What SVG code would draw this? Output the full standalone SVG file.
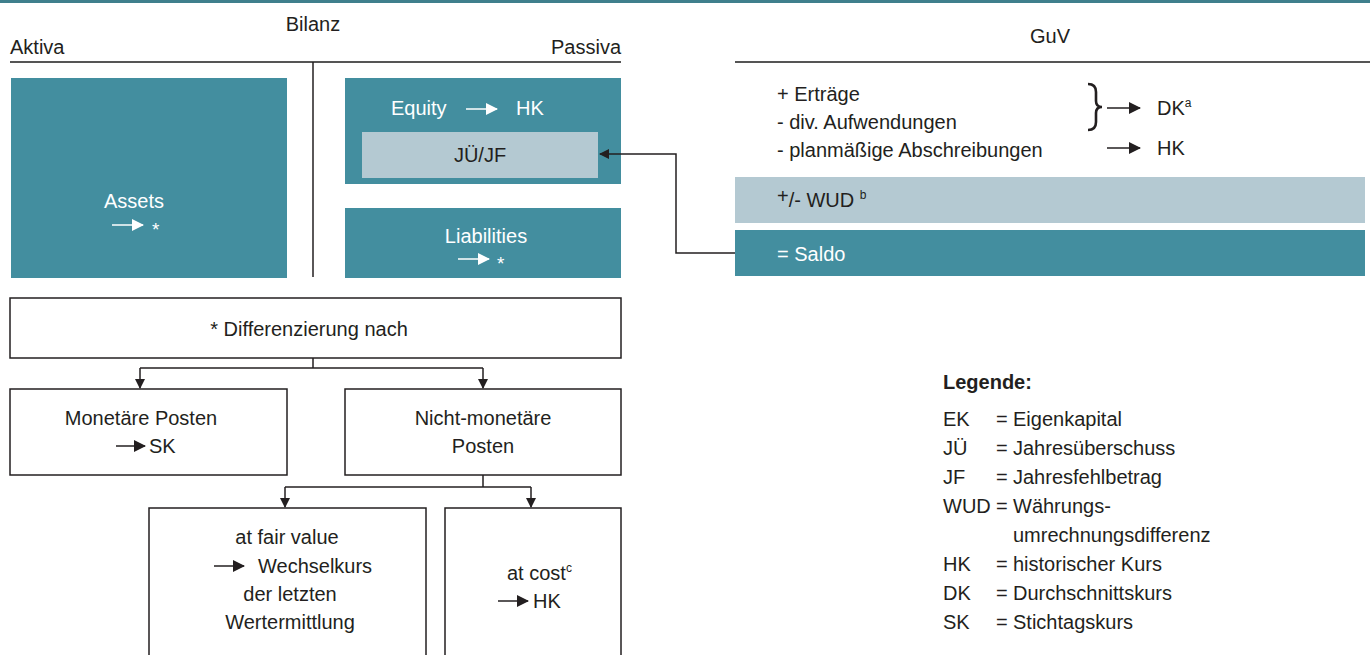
<svg xmlns="http://www.w3.org/2000/svg" width="1370" height="655" viewBox="0 0 1370 655">
<defs>
<style>
text{font-family:"Liberation Sans",Arial,sans-serif;font-size:20px;fill:#231f20}
.w{fill:#ffffff}
.c{text-anchor:middle}
.teal{fill:#438e9f}
.light{fill:#b4c9d2}
.box{fill:#ffffff;stroke:#231f20;stroke-width:1.5}
.conn{fill:none;stroke:#231f20;stroke-width:1.5}
.rule{stroke:#555;stroke-width:2}
.sup{font-size:12px}
.star{font-size:19px}
.b{font-weight:bold}
</style>
<marker id="ah" markerWidth="10" markerHeight="10" refX="9" refY="5" orient="auto" markerUnits="userSpaceOnUse"><path d="M0,0 L10,5 L0,10 Z" fill="#231f20"/></marker>
<marker id="ahw" markerWidth="12" markerHeight="12" refX="11" refY="6" orient="auto" markerUnits="userSpaceOnUse"><path d="M0,0 L12,6 L0,12 Z" fill="#ffffff"/></marker>
<marker id="ahk" markerWidth="12" markerHeight="12" refX="11" refY="6" orient="auto" markerUnits="userSpaceOnUse"><path d="M0,0 L12,6 L0,12 Z" fill="#231f20"/></marker>
</defs>
<rect x="0" y="0" width="1370" height="3" fill="#3f7f8c"/>
<g id="header">
<text class="c" x="313" y="31">Bilanz</text>
<text x="10" y="54">Aktiva</text>
<text x="621" y="54" text-anchor="end">Passiva</text>
<line class="rule" x1="10" y1="62" x2="621" y2="62"/>
<line x1="313" y1="62" x2="313" y2="277" stroke="#231f20" stroke-width="1.5"/>
<text class="c" x="1050" y="43">GuV</text>
<line class="rule" x1="735" y1="62" x2="1370" y2="62"/>
</g>
<g id="assets">
<rect class="teal" x="11" y="78" width="276" height="200"/>
<text class="c w" x="134" y="208">Assets</text>
<line x1="112" y1="225" x2="143" y2="225" stroke="#fff" stroke-width="1.5" marker-end="url(#ahw)"/>
<text class="w star" x="152" y="236">*</text>
</g>
<g id="equity">
<rect class="teal" x="345" y="78" width="276" height="106"/>
<text class="w" x="391" y="115">Equity</text>
<line x1="466" y1="109" x2="497" y2="109" stroke="#fff" stroke-width="1.5" marker-end="url(#ahw)"/>
<text class="w" x="516" y="115">HK</text>
</g>
<g id="juejf">
<rect class="light" x="362" y="132" width="236" height="46"/>
<text class="c" x="480" y="162">JÜ/JF</text>
</g>
<g id="liabilities">
<rect class="teal" x="345" y="208" width="276" height="70"/>
<text class="c w" x="486" y="243">Liabilities</text>
<line x1="458" y1="259" x2="489" y2="259" stroke="#fff" stroke-width="1.5" marker-end="url(#ahw)"/>
<text class="w star" x="497" y="270">*</text>
</g>
<g id="guv">
<text x="777" y="101">+ Erträge</text>
<text x="777" y="129">- div. Aufwendungen</text>
<text x="777" y="157">- planmäßige Abschreibungen</text>
<path d="M1088,84 Q1096,84 1096,92 V101 Q1096,107 1102,107 Q1096,107 1096,113 V122 Q1096,130 1088,130" fill="none" stroke="#231f20" stroke-width="2.6"/>
<line x1="1107" y1="108" x2="1140" y2="108" stroke="#231f20" stroke-width="1.5" marker-end="url(#ahk)"/>
<text x="1157" y="115">DK<tspan class="sup" dy="-8">a</tspan></text>
<line x1="1107" y1="148" x2="1140" y2="148" stroke="#231f20" stroke-width="1.5" marker-end="url(#ahk)"/>
<text x="1157" y="155">HK</text>
</g>
<g id="wud">
<rect class="light" x="735" y="177" width="630" height="46"/>
<text x="777" y="207"><tspan dy="-4">+</tspan><tspan dy="4">/- WUD </tspan><tspan class="sup" dy="-8">b</tspan></text>
</g>
<g id="saldo">
<rect class="teal" x="735" y="230" width="630" height="46"/>
<text class="w" x="777" y="261">= Saldo</text>
</g>
<g id="diff">
<rect class="box" x="10" y="298" width="611" height="60"/>
<text class="c" x="309" y="336">* Differenzierung nach</text>
</g>
<g id="monetaer">
<rect class="box" x="10" y="389" width="277" height="86"/>
<text class="c" x="141" y="425">Monetäre Posten</text>
<line x1="116" y1="446" x2="145" y2="446" stroke="#231f20" stroke-width="1.5" marker-end="url(#ahk)"/>
<text x="149" y="453">SK</text>
</g>
<g id="nichtmonetaer">
<rect class="box" x="345" y="389" width="276" height="86"/>
<text class="c" x="483" y="425">Nicht-monetäre</text>
<text class="c" x="483" y="453">Posten</text>
</g>
<g id="fairvalue">
<rect class="box" x="149" y="508" width="277" height="160"/>
<text class="c" x="287" y="544">at fair value</text>
<line x1="214" y1="566" x2="244" y2="566" stroke="#231f20" stroke-width="1.5" marker-end="url(#ahk)"/>
<text x="258" y="573">Wechselkurs</text>
<text class="c" x="290" y="601">der letzten</text>
<text class="c" x="290" y="629">Wertermittlung</text>
</g>
<g id="atcost">
<rect class="box" x="445" y="508" width="176" height="160"/>
<text x="507" y="580">at cost<tspan class="sup" dy="-8">c</tspan></text>
<line x1="498" y1="601" x2="528" y2="601" stroke="#231f20" stroke-width="1.5" marker-end="url(#ahk)"/>
<text x="533" y="608">HK</text>
</g>
<g id="legend">
<text class="b" x="943" y="389">Legende:</text>
<text x="943" y="426">EK</text><text x="996" y="426">=</text><text x="1013" y="426">Eigenkapital</text>
<text x="943" y="455">JÜ</text><text x="996" y="455">=</text><text x="1013" y="455">Jahresüberschuss</text>
<text x="943" y="484">JF</text><text x="996" y="484">=</text><text x="1013" y="484">Jahresfehlbetrag</text>
<text x="943" y="513">WUD</text><text x="996" y="513">=</text><text x="1013" y="513">Währungs-</text>
<text x="1013" y="542">umrechnungsdifferenz</text>
<text x="943" y="571">HK</text><text x="996" y="571">=</text><text x="1013" y="571">historischer Kurs</text>
<text x="943" y="600">DK</text><text x="996" y="600">=</text><text x="1013" y="600">Durchschnittskurs</text>
<text x="943" y="629">SK</text><text x="996" y="629">=</text><text x="1013" y="629">Stichtagskurs</text>
</g>
<g id="connectors">
<path class="conn" d="M735,253 H676 V154 H600" marker-end="url(#ah)"/>
<path class="conn" d="M313,358 V368"/>
<path class="conn" d="M140,368 H483"/>
<path class="conn" d="M140,368 V388" marker-end="url(#ah)"/>
<path class="conn" d="M483,368 V388" marker-end="url(#ah)"/>
<path class="conn" d="M483,475 V487"/>
<path class="conn" d="M285,487 H531"/>
<path class="conn" d="M285,487 V507" marker-end="url(#ah)"/>
<path class="conn" d="M531,487 V507" marker-end="url(#ah)"/>
</g>
</svg>
